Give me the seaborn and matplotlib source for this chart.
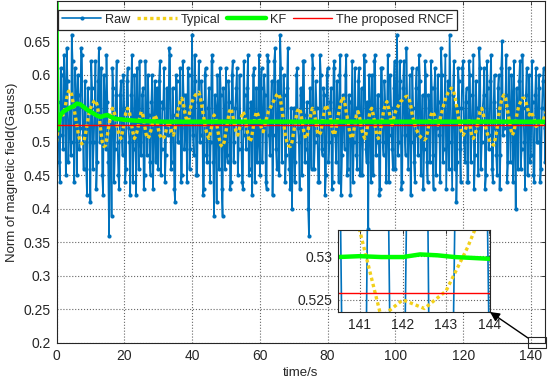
"""Norm of magnetic field: raw vs. typical / KF / proposed RNCF filtering."""

import matplotlib
matplotlib.use("Agg")
import matplotlib.pyplot as plt
import numpy as np
import seaborn as sns
from matplotlib.patches import Rectangle

# raw samples, two interleaved read-outs every 0.5 s (t = 0 .. 144.5 and 0.25 .. 144.75)
raw_t = np.arange(290) * 0.5
raw_a = [
    0.50, 0.56, 0.44, 0.60, 0.49, 0.58, 0.64, 0.47, 0.55, 0.66, 0.50, 0.61, 0.45, 0.57, 0.52, 0.63, 0.46, 0.59, 0.42, 0.55,
    0.41, 0.58, 0.50, 0.62, 0.47, 0.64, 0.52, 0.45, 0.60, 0.49, 0.56, 0.36, 0.53, 0.61, 0.44, 0.57, 0.50, 0.43, 0.59, 0.48,
    0.55, 0.46, 0.61, 0.50, 0.57, 0.44, 0.60, 0.42, 0.54, 0.62, 0.48, 0.58, 0.45, 0.53, 0.60, 0.47, 0.56, 0.43, 0.59, 0.51,
    0.46, 0.62, 0.49, 0.55, 0.44, 0.58, 0.51, 0.63, 0.47, 0.54, 0.41, 0.59, 0.50, 0.61, 0.45, 0.57, 0.52, 0.44, 0.60, 0.49,
    0.66, 0.48, 0.59, 0.45, 0.62, 0.51, 0.56, 0.43, 0.61, 0.47, 0.58, 0.50, 0.63, 0.39, 0.55, 0.60, 0.46, 0.57, 0.39, 0.53,
    0.61, 0.47, 0.56, 0.44, 0.62, 0.50, 0.58, 0.45, 0.60, 0.52, 0.43, 0.57, 0.49, 0.63, 0.46, 0.55, 0.60, 0.44, 0.58, 0.50,
    0.45, 0.61, 0.52, 0.57, 0.43, 0.62, 0.48, 0.59, 0.51, 0.64, 0.46, 0.56, 0.66, 0.47, 0.60, 0.44, 0.58, 0.50, 0.43, 0.40,
    0.55, 0.47, 0.61, 0.50, 0.58, 0.45, 0.62, 0.49, 0.56, 0.36, 0.53, 0.63, 0.46, 0.59, 0.51, 0.44, 0.60, 0.48, 0.57, 0.45,
    0.61, 0.50, 0.58, 0.44, 0.62, 0.47, 0.55, 0.60, 0.42, 0.57, 0.49, 0.63, 0.46, 0.56, 0.52, 0.44, 0.61, 0.48, 0.59, 0.45,
    0.58, 0.51, 0.62, 0.47, 0.37, 0.55, 0.60, 0.45, 0.63, 0.50, 0.57, 0.43, 0.61, 0.48, 0.56, 0.52, 0.44, 0.60, 0.49, 0.58,
    0.46, 0.66, 0.50, 0.59, 0.44, 0.62, 0.48, 0.56, 0.53, 0.42, 0.61, 0.47, 0.58, 0.51, 0.63, 0.45, 0.57, 0.49, 0.60, 0.44,
    0.55, 0.62, 0.48, 0.58, 0.45, 0.60, 0.51, 0.64, 0.47, 0.56, 0.43, 0.59, 0.66, 0.50, 0.57, 0.46, 0.41, 0.61, 0.49, 0.55,
    0.62, 0.47, 0.58, 0.44, 0.60, 0.51, 0.63, 0.48, 0.55, 0.45, 0.61, 0.50, 0.57, 0.43, 0.62, 0.49, 0.59, 0.46, 0.56, 0.52,
    0.45, 0.60, 0.48, 0.65, 0.52, 0.57, 0.44, 0.61, 0.47, 0.56, 0.62, 0.40, 0.54, 0.59, 0.46, 0.63, 0.50, 0.57, 0.45, 0.60,
    0.48, 0.56, 0.44, 0.61, 0.50, 0.58, 0.46, 0.59, 0.52, 0.55,
]
raw_b = [
    0.53, 0.47, 0.61, 0.51, 0.63, 0.45, 0.59, 0.52, 0.48, 0.62, 0.44, 0.57, 0.60, 0.49, 0.64, 0.51, 0.55, 0.46, 0.58, 0.50,
    0.62, 0.46, 0.55, 0.43, 0.59, 0.50, 0.61, 0.42, 0.56, 0.63, 0.47, 0.52, 0.39, 0.58, 0.49, 0.62, 0.45, 0.57, 0.51, 0.60,
    0.44, 0.59, 0.52, 0.42, 0.63, 0.49, 0.55, 0.61, 0.46, 0.50, 0.57, 0.43, 0.62, 0.48, 0.54, 0.45, 0.60, 0.52, 0.47, 0.58,
    0.59, 0.45, 0.56, 0.61, 0.48, 0.52, 0.64, 0.46, 0.58, 0.43, 0.60, 0.50, 0.55, 0.44, 0.62, 0.49, 0.57, 0.61, 0.46, 0.54,
    0.51, 0.63, 0.45, 0.56, 0.50, 0.59, 0.42, 0.60, 0.48, 0.55, 0.44, 0.62, 0.47, 0.57, 0.41, 0.52, 0.61, 0.43, 0.58, 0.46,
    0.48, 0.59, 0.43, 0.60, 0.47, 0.55, 0.61, 0.49, 0.53, 0.44, 0.62, 0.51, 0.58, 0.45, 0.56, 0.42, 0.61, 0.50, 0.47, 0.63,
    0.58, 0.47, 0.60, 0.44, 0.63, 0.51, 0.55, 0.42, 0.62, 0.49, 0.59, 0.45, 0.61, 0.53, 0.57, 0.48, 0.64, 0.46, 0.55, 0.51,
    0.44, 0.60, 0.52, 0.43, 0.57, 0.62, 0.47, 0.54, 0.40, 0.58, 0.46, 0.61, 0.50, 0.55, 0.44, 0.63, 0.49, 0.58, 0.42, 0.60,
    0.47, 0.56, 0.43, 0.61, 0.51, 0.59, 0.44, 0.63, 0.48, 0.54, 0.60, 0.45, 0.57, 0.42, 0.62, 0.50, 0.55, 0.46, 0.61, 0.52,
    0.45, 0.63, 0.49, 0.56, 0.60, 0.44, 0.53, 0.62, 0.48, 0.57, 0.42, 0.61, 0.50, 0.59, 0.44, 0.63, 0.51, 0.55, 0.46, 0.62,
    0.57, 0.48, 0.62, 0.43, 0.58, 0.51, 0.64, 0.46, 0.60, 0.50, 0.55, 0.44, 0.61, 0.48, 0.59, 0.52, 0.43, 0.62, 0.47, 0.57,
    0.47, 0.58, 0.43, 0.61, 0.52, 0.56, 0.44, 0.60, 0.49, 0.63, 0.51, 0.46, 0.58, 0.43, 0.62, 0.55, 0.47, 0.59, 0.44, 0.61,
    0.50, 0.56, 0.44, 0.62, 0.47, 0.57, 0.43, 0.59, 0.52, 0.64, 0.46, 0.55, 0.61, 0.45, 0.58, 0.51, 0.63, 0.44, 0.60, 0.48,
    0.58, 0.43, 0.61, 0.51, 0.56, 0.63, 0.47, 0.54, 0.60, 0.44, 0.50, 0.58, 0.46, 0.62, 0.49, 0.55, 0.43, 0.61, 0.52, 0.47,
    0.62, 0.45, 0.57, 0.50, 0.60, 0.44, 0.55, 0.61, 0.47, 0.58,
]

# typical filter output, every 0.5 s
typical = [
    0.500, 0.520, 0.535, 0.545, 0.540, 0.550, 0.565, 0.575, 0.577, 0.570, 0.555, 0.540, 0.525, 0.510, 0.500, 0.497, 0.500, 0.510, 0.525, 0.540,
    0.550, 0.555, 0.560, 0.562, 0.555, 0.540, 0.520, 0.500, 0.493, 0.495, 0.510, 0.525, 0.540, 0.550, 0.545, 0.535, 0.520, 0.510, 0.505, 0.515,
    0.530, 0.545, 0.550, 0.545, 0.530, 0.515, 0.505, 0.510, 0.520, 0.535, 0.545, 0.540, 0.525, 0.510, 0.505, 0.510, 0.520, 0.530, 0.540, 0.535,
    0.520, 0.510, 0.505, 0.505, 0.510, 0.520, 0.530, 0.525, 0.515, 0.510, 0.520, 0.535, 0.550, 0.560, 0.565, 0.555, 0.540, 0.530, 0.535, 0.550,
    0.560, 0.565, 0.570, 0.572, 0.574, 0.565, 0.550, 0.535, 0.520, 0.510, 0.505, 0.515, 0.530, 0.540, 0.535, 0.520, 0.505, 0.495, 0.493, 0.500,
    0.515, 0.530, 0.545, 0.550, 0.540, 0.525, 0.515, 0.510, 0.520, 0.535, 0.545, 0.540, 0.525, 0.510, 0.500, 0.505, 0.520, 0.535, 0.545, 0.540,
    0.530, 0.520, 0.515, 0.525, 0.535, 0.545, 0.550, 0.555, 0.560, 0.565, 0.570, 0.572, 0.565, 0.550, 0.530, 0.510, 0.500, 0.494, 0.493, 0.500,
    0.515, 0.530, 0.545, 0.550, 0.545, 0.530, 0.515, 0.505, 0.510, 0.525, 0.540, 0.550, 0.545, 0.530, 0.515, 0.510, 0.515, 0.530, 0.545, 0.555,
    0.550, 0.545, 0.530, 0.515, 0.510, 0.520, 0.535, 0.550, 0.560, 0.567, 0.560, 0.545, 0.530, 0.515, 0.505, 0.510, 0.525, 0.540, 0.545, 0.535,
    0.520, 0.510, 0.505, 0.515, 0.530, 0.545, 0.550, 0.540, 0.525, 0.510, 0.505, 0.515, 0.530, 0.545, 0.555, 0.560, 0.550, 0.535, 0.525, 0.535,
    0.545, 0.550, 0.555, 0.560, 0.562, 0.565, 0.567, 0.568, 0.565, 0.555, 0.540, 0.530, 0.520, 0.515, 0.510, 0.507, 0.505, 0.503, 0.505, 0.515,
    0.530, 0.540, 0.545, 0.540, 0.530, 0.525, 0.530, 0.540, 0.550, 0.560, 0.567, 0.573, 0.577, 0.580, 0.578, 0.570, 0.555, 0.540, 0.525, 0.515,
    0.510, 0.515, 0.525, 0.535, 0.525, 0.510, 0.505, 0.510, 0.520, 0.535, 0.545, 0.550, 0.540, 0.525, 0.515, 0.505, 0.500, 0.497, 0.495, 0.505,
    0.520, 0.540, 0.555, 0.565, 0.570, 0.565, 0.550, 0.535, 0.520, 0.510, 0.515, 0.530, 0.545, 0.555, 0.560, 0.565, 0.565, 0.560, 0.550, 0.540,
    0.545, 0.540, 0.533, 0.523, 0.525, 0.524, 0.526, 0.531, 0.537, 0.545,
]

# Kalman filter estimate (denser at the start where it converges)
kf_t = [0, 0.1, 0.3, 0.6, 1, 1.5, 2, 3, 4, 5, 6, 7, 8, 9, 10, 11, 12, 13, 14, 15, 16, 17, 18,
        20, 22, 25, 28, 32, 40, 50, 70, 100, 130,
        140, 140.5, 141, 141.5, 142, 142.4, 142.8, 143.2, 143.6, 144, 144.5]
kf = [0.72, 0.60, 0.518, 0.525, 0.538, 0.542, 0.545, 0.548, 0.551, 0.553, 0.557, 0.556, 0.552, 0.548, 0.545, 0.542,
      0.539, 0.537, 0.539, 0.540, 0.537, 0.535, 0.534,
      0.533, 0.532, 0.531, 0.5305, 0.530, 0.530, 0.530, 0.530, 0.530, 0.530,
      0.5299, 0.5299, 0.5300, 0.5299, 0.5299, 0.5302, 0.5301, 0.5299, 0.5298, 0.5297, 0.5297]

# proposed RNCF (flat)
rncf_t = [0, 144.5]
rncf = [0.5258, 0.5258]

sns.set_style("white")
plt.rcParams["font.family"] = ["Liberation Sans", "DejaVu Sans"]
plt.rcParams["font.size"] = 10

C_RAW = "#0072BD"
C_TYP = "#F2D01A"
C_KF = "#00FF00"
C_RED = "#FF0000"

raw_x = np.concatenate([raw_t, raw_t + 0.25])
raw_y = np.concatenate([raw_a, raw_b])


def draw_series(ax, legend):
    sns.lineplot(x=raw_x, y=raw_y, ax=ax, color=C_RAW, lw=1.2, marker=".", markersize=6,
                 markeredgewidth=0, label="Raw" if legend else None, legend=False)
    sns.lineplot(x=raw_t, y=typical, ax=ax, color=C_TYP, lw=2.4, linestyle=(0, (1, 0.9)),
                 label="Typical" if legend else None, legend=False)
    sns.lineplot(x=kf_t, y=kf, ax=ax, color=C_KF, lw=3.2,
                 label="KF" if legend else None, legend=False)
    sns.lineplot(x=rncf_t, y=rncf, ax=ax, color=C_RED, lw=1.0,
                 label="The proposed RNCF" if legend else None, legend=False)


def style_axes(ax):
    ax.grid(True, linestyle=":", color="#262626", linewidth=0.8, alpha=0.7)
    ax.tick_params(direction="in", top=True, right=True, length=3, width=0.6,
                   colors="#262626", labelsize=10, pad=4)
    for s in ax.spines.values():
        s.set_color("#262626")
        s.set_linewidth(0.8)
        s.set_visible(True)


fig = plt.figure(figsize=(5.5, 3.87), dpi=100)
ax = fig.add_axes([56.5 / 550, 1 - 343 / 387, 488 / 550, 342 / 387])
draw_series(ax, True)
ax.set_xlim(0, 144)
ax.set_ylim(0.2, 0.71)
ax.set_xticks(np.arange(0, 141, 20))
ax.set_yticks([0.2, 0.25, 0.3, 0.35, 0.4, 0.45, 0.5, 0.55, 0.6, 0.65])
ax.set_yticklabels(["0.2", "0.25", "0.3", "0.35", "0.4", "0.45", "0.5", "0.55", "0.6", "0.65"])
style_axes(ax)
ax.set_xlabel("time/s", fontsize=9.5, labelpad=3)
ax.set_ylabel("Norm of magnetic field(Gauss)", fontsize=9.5, labelpad=4)

leg = ax.legend(loc="upper left", bbox_to_anchor=(58 / 550, 1 - 10 / 387),
                bbox_transform=fig.transFigure, borderaxespad=0, ncol=4,
                fontsize=9.2, frameon=True, fancybox=False, framealpha=1,
                edgecolor="#262626", handlelength=3.1, handletextpad=0.3,
                columnspacing=0.5, borderpad=0.3, numpoints=1)
leg.get_frame().set_linewidth(0.9)

# zoomed inset on the last seconds
axin = fig.add_axes([338 / 550, 1 - 312 / 387, 152 / 550, 82 / 387])
draw_series(axin, False)
axin.set_xlim(140.5, 144.02)
axin.set_ylim(0.5236, 0.5330)
axin.set_xticks([141, 142, 143, 144])
axin.set_yticks([0.525, 0.53])
axin.set_yticklabels(["0.525", "0.53"])
axin.set_facecolor("white")
style_axes(axin)
axin.set_xlabel("")
axin.set_ylabel("")

# marker box and arrow pointing to the inset
fig.add_artist(Rectangle((528 / 550, 1 - 348 / 387), 18 / 550, 11 / 387,
                         transform=fig.transFigure, fill=False,
                         edgecolor="#262626", linewidth=0.8))
fig.add_artist(plt.Annotation("", xy=(490 / 550, 1 - 312 / 387),
                              xytext=(528 / 550, 1 - 338 / 387),
                              xycoords="figure fraction", textcoords="figure fraction",
                              arrowprops=dict(arrowstyle="-|>", color="black", lw=1.0,
                                              mutation_scale=14, shrinkA=0, shrinkB=0)))

fig.savefig("out.png", dpi=100)
